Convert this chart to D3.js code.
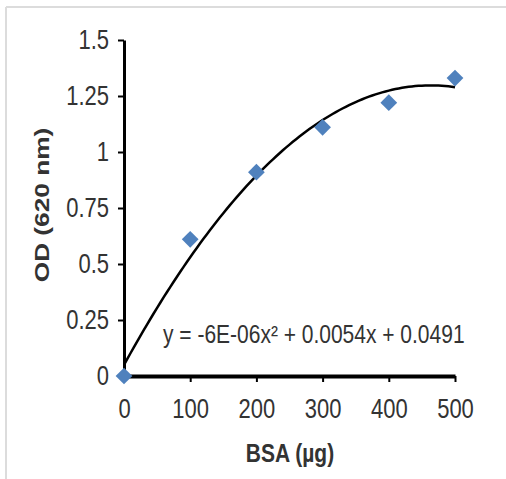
<!DOCTYPE html>
<html>
<head>
<meta charset="utf-8">
<script src="https://cdn.jsdelivr.net/npm/d3@7"></script>
<style>
  body { margin: 0; background: #fff; }
  text { font-family: "Liberation Sans", Arial, sans-serif; }
</style>
</head>
<body>
<div id="chart"></div>
<script>
// data
var bsa = [0, 100, 200, 300, 400, 500];
var od = [0, 0.61, 0.91, 1.11, 1.22, 1.33];
var xTicks = [0, 100, 200, 300, 400, 500];
var yTicks = [0, 0.25, 0.5, 0.75, 1, 1.25, 1.5];
var yTickLabels = ["0", "0.25", "0.5", "0.75", "1", "1.25", "1.5"];
var equation = "y = -6E-06x\u00B2 + 0.0054x + 0.0491";

var svgWidth = 506;
var svgHeight = 479;
var stretch = 1.22; // the original text is drawn a bit tall

var svg = d3.select("#chart")
  .append("svg")
  .attr("width", svgWidth)
  .attr("height", svgHeight);

// light frame (top and left only)
svg.append("line").attr("x1", 6).attr("y1", 7).attr("x2", 506).attr("y2", 7)
  .attr("stroke", "#dcdcdc").attr("stroke-width", 2);
svg.append("line").attr("x1", 6).attr("y1", 7).attr("x2", 6).attr("y2", 479)
  .attr("stroke", "#dcdcdc").attr("stroke-width", 2);

// scales
var x = d3.scaleLinear().domain([0, 500]).range([124, 455]);
var y = d3.scaleLinear().domain([0, 1.5]).range([376, 40]);

// quadratic least squares trendline from the points
function quadFit(xs, ys) {
  var n = xs.length, s = [0, 0, 0, 0, 0], t = [0, 0, 0];
  for (var i = 0; i < n; i++) {
    var p = 1;
    for (var k = 0; k < 5; k++) { s[k] += p; if (k < 3) t[k] += p * ys[i]; p *= xs[i]; }
  }
  var M = [[s[0], s[1], s[2], t[0]], [s[1], s[2], s[3], t[1]], [s[2], s[3], s[4], t[2]]];
  for (var c = 0; c < 3; c++) {
    for (var r = c + 1; r < 3; r++) {
      var f = M[r][c] / M[c][c];
      for (var j = c; j < 4; j++) M[r][j] -= f * M[c][j];
    }
  }
  var coef = [0, 0, 0];
  for (var r = 2; r >= 0; r--) {
    var v = M[r][3];
    for (var j = r + 1; j < 3; j++) v -= M[r][j] * coef[j];
    coef[r] = v / M[r][r];
  }
  return coef; // c0 + c1 x + c2 x^2
}
var cf = quadFit(bsa, od);
var curveX = d3.range(0, 501, 5);
var line = d3.line()
  .x(d => x(d))
  .y(d => y(cf[0] + cf[1] * d + cf[2] * d * d));

// axes
var bottomAxis = d3.axisBottom(x).tickValues(xTicks).tickSize(6).tickSizeOuter(0);
var leftAxis = d3.axisLeft(y).tickValues(yTicks).tickSize(6).tickPadding(9).tickSizeOuter(0)
  .tickFormat((d, i) => yTickLabels[i]);

var gx = svg.append("g").attr("transform", "translate(0,376)").call(bottomAxis);
var gy = svg.append("g").attr("transform", "translate(124,0)").call(leftAxis);

gx.select(".domain").attr("stroke", "#000").attr("stroke-width", 4);
gy.select(".domain").attr("stroke", "#000").attr("stroke-width", 3);
gx.selectAll(".tick line").attr("stroke", "#000").attr("stroke-width", 2);
gy.selectAll(".tick line").attr("stroke", "#000").attr("stroke-width", 2);
svg.selectAll(".tick text")
  .attr("font-size", 22)
  .attr("font-family", "Liberation Sans, Arial, sans-serif")
  .attr("fill", "#333");
gx.selectAll(".tick text")
  .attr("y", 0)
  .attr("dy", 0)
  .attr("transform", `translate(0,42) scale(1,${stretch})`);
gy.selectAll(".tick text")
  .attr("transform", `scale(1,${stretch})`);

// trendline
svg.append("path")
  .datum(curveX)
  .attr("d", line)
  .attr("fill", "none")
  .attr("stroke", "#000")
  .attr("stroke-width", 2.5);

// markers
svg.selectAll(".pt")
  .data(bsa)
  .enter()
  .append("path")
  .attr("class", "pt")
  .attr("d", d3.symbol(d3.symbolSquare, 140))
  .attr("transform", (d, i) => `translate(${x(d)},${y(od[i])}) rotate(45)`)
  .attr("fill", "#4f81bd");

// equation label
svg.append("text")
  .attr("transform", `translate(163,343) scale(1,${stretch})`)
  .attr("font-size", 21)
  .attr("fill", "#333")
  .text(equation);

// axis titles
svg.append("text")
  .attr("transform", "translate(49,205) rotate(-90) scale(1.25,1)")
  .attr("text-anchor", "middle")
  .attr("font-size", 21)
  .attr("font-weight", "bold")
  .attr("fill", "#333")
  .text("OD (620 nm)");

svg.append("text")
  .attr("transform", `translate(290,462) scale(1,${stretch})`)
  .attr("text-anchor", "middle")
  .attr("font-size", 21)
  .attr("font-weight", "bold")
  .attr("fill", "#333")
  .text("BSA (\u00B5g)");
</script>
</body>
</html>
